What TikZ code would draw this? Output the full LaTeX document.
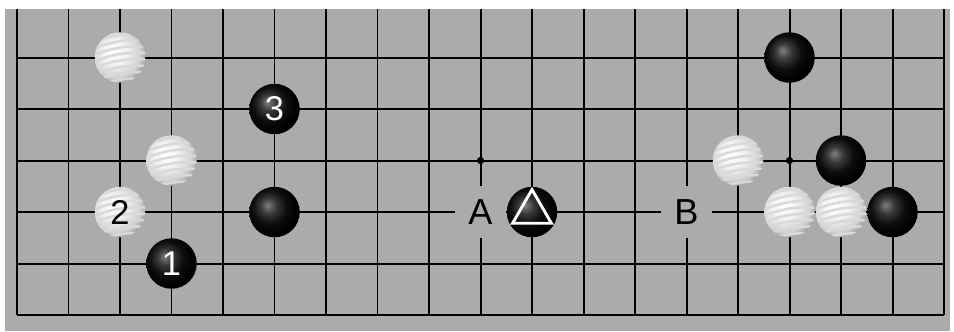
\documentclass[tikz,border=0pt]{standalone}
\usepackage{fontspec}
\newfontfamily\lblfont{Liberation Sans}
\usetikzlibrary{positioning,shapes.geometric}
\definecolor{board}{gray}{0.67}
\pgfdeclareradialshading{blackstone}{\pgfpoint{-7bp}{7bp}}{color(0bp)=(black!50); color(8bp)=(black!78); color(17bp)=(black!95); color(26bp)=(black); color(60bp)=(black)}
\pgfdeclareradialshading{whitestone}{\pgfpoint{-7bp}{7bp}}{color(0bp)=(white); color(12bp)=(black!5); color(24bp)=(black!18); color(31bp)=(black!42); color(60bp)=(black!55)}

\begin{document}
\begin{tikzpicture}[
    line width=1.1pt,
    stone/.style={circle,draw=none,inner sep=0pt,minimum size=0.98cm,font=\lblfont\fontsize{19}{19}\selectfont},
    bstone/.style={stone,shading=blackstone,text=white},
    wstone/.style={stone,shading=whitestone,text=black,
        path picture={\foreach \k in {-4,...,4}{
            \draw[black!15,line width=1.4pt]
                ([shift={(-0.6,0.125*\k-0.12)}]path picture bounding box.center)
                to[bend left=14] +(1.2,0.2);}}},
    hoshi/.style={circle,fill=black,inner sep=0pt,minimum size=0.14cm},
    pointlabel/.style={rectangle,fill=board,inner sep=0pt,minimum size=1cm,font=\lblfont\fontsize{20}{20}\selectfont}
]
    \useasboundingbox (-0.330,-0.311) rectangle (18.194,6.117);
    \fill[board] (-0.233,-0.311) rectangle (18.117,5.942);
    \foreach \x in {0,...,18}
        \draw (\x,0) -- (\x,5.942);
    \foreach \y in {0,...,5}
        \draw (0,\y) -- (18,\y);
    \node[hoshi] (h1) at (3,3) {};
    \node[hoshi] (h2) at (9,3) {};
    \node[hoshi] (h3) at (15,3) {};
    \node[pointlabel] (pA) at (9,2) {A};
    \node[pointlabel] (pB) at (13,2) {B};
    \node[wstone] (w1) at (2,5) {};
    \node[wstone] (w2) at (3,3) {};
    \node[wstone] (w3) at (2,2) {2};
    \node[wstone] (w4) at (14,3) {};
    \node[wstone] (w5) at (15,2) {};
    \node[wstone] (w6) at (16,2) {};
    \node[bstone] (b1) at (3,1) {1};
    \node[bstone] (b2) at (5,4) {3};
    \node[bstone] (b3) at (5,2) {};
    \node[bstone] (b4) at (10,2) {};
    \node[bstone] (b5) at (15,5) {};
    \node[bstone] (b6) at (16,3) {};
    \node[bstone] (b7) at (17,2) {};
    \node[regular polygon,regular polygon sides=3,draw=white,line width=1.6pt,
        inner sep=0pt,minimum size=0.87cm] (tri) at (b4) {};
\end{tikzpicture}
\end{document}
